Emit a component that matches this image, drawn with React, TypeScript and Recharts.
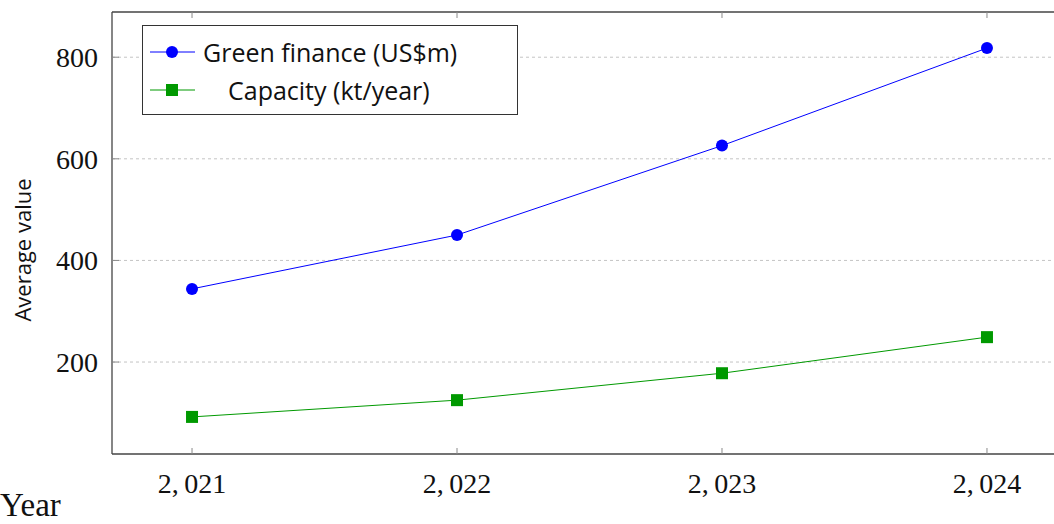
import React from "react";
import {
  LineChart,
  Line,
  XAxis,
  YAxis,
  CartesianGrid,
  ReferenceLine,
} from "recharts";

// values
const years = [2021, 2022, 2023, 2024];
const greenFinance = [344, 450, 626, 818];
const capacity = [92, 125, 178, 249];
const yTicks = [200, 400, 600, 800];

const X_DOMAIN: [number, number] = [2020.698, 2024.302];
const Y_DOMAIN: [number, number] = [19, 889];

const BLUE = "#0000ff";
const GREEN = "#009900";
const AXIS = "#454545";
const TICK = "#8a8a8a";
const SERIF = "'Liberation Serif', 'Times New Roman', serif";
const SANS = "'Open Sans', 'Noto Sans', sans-serif";

const data = years.map((year, i) => ({
  year,
  green: greenFinance[i],
  capacity: capacity[i],
}));

// pgfplots style thousands separator, "2, 021"
const fmtYear = (v: number) => {
  const s = String(v);
  return s.slice(0, s.length - 3) + ",\u2009" + s.slice(-3);
};

// inward tick + label under the bottom axis
const BottomTick = (props: any) => {
  const { x, y, payload } = props;
  return (
    <g>
      <line x1={x} x2={x} y1={y} y2={y - 6} stroke={TICK} strokeWidth={1} />
      <text
        x={x}
        y={y + 39}
        textAnchor="middle"
        fontFamily={SERIF}
        fontSize={28}
        fill="#111"
      >
        {fmtYear(payload.value)}
      </text>
    </g>
  );
};

const LeftTick = (props: any) => {
  const { x, y, payload } = props;
  return (
    <g>
      <line x1={x} x2={x + 7} y1={y} y2={y} stroke={TICK} strokeWidth={1} />
      <text
        x={x - 14}
        y={y + 10}
        textAnchor="end"
        fontFamily={SERIF}
        fontSize={28}
        fill="#111"
      >
        {payload.value}
      </text>
    </g>
  );
};

const Square = (props: any) => {
  const { cx, cy } = props;
  if (cx == null || cy == null) return null;
  return <rect x={cx - 6} y={cy - 6} width={12} height={12} fill={GREEN} />;
};

const LegendBox = () => (
  <div
    style={{
      position: "absolute",
      left: 142,
      top: 25,
      width: 374,
      height: 88,
      border: "1.3px solid #333",
      background: "#fff",
      fontFamily: SANS,
      fontSize: 25,
      color: "#111",
    }}
  >
    <div style={{ display: "flex", alignItems: "center", height: 36, marginTop: 8 }}>
      <svg width={60} height={20} style={{ flex: "none" }}>
        <line x1={7} x2={52} y1={10} y2={10} stroke={BLUE} strokeWidth={1} />
        <circle cx={29} cy={10} r={6} fill={BLUE} />
      </svg>
      <span>Green finance (US$m)</span>
    </div>
    <div style={{ display: "flex", alignItems: "center", height: 40 }}>
      <svg width={60} height={20} style={{ flex: "none" }}>
        <line x1={7} x2={52} y1={10} y2={10} stroke={GREEN} strokeWidth={1} />
        <rect x={23} y={4} width={12} height={12} fill={GREEN} />
      </svg>
      <span style={{ marginLeft: 25 }}>Capacity (kt/year)</span>
    </div>
  </div>
);

// top tick marks, pointing down into the plot (about 6px)
const topTickLen = ((Y_DOMAIN[1] - Y_DOMAIN[0]) * 6) / 442;

export default function App() {
  return (
    <div
      style={{
        position: "absolute",
        left: 0,
        top: 0,
        width: 1054,
        height: 524,
        overflow: "hidden",
        background: "#fff",
      }}
    >
      <LineChart
        width={1067}
        height={524}
        data={data}
        margin={{ top: 12, right: 0, bottom: 0, left: 0 }}
      >
        <CartesianGrid
          vertical={false}
          horizontalValues={yTicks}
          stroke="#c4c4c4"
          strokeDasharray="3 3"
        />
        <XAxis
          dataKey="year"
          type="number"
          domain={X_DOMAIN}
          ticks={years}
          height={70}
          tickSize={0}
          tickMargin={0}
          tickLine={false}
          axisLine={{ stroke: AXIS, strokeWidth: 1.3 }}
          tick={<BottomTick />}
          interval={0}
        />
        <YAxis
          type="number"
          domain={Y_DOMAIN}
          ticks={yTicks}
          width={112}
          tickSize={0}
          tickMargin={0}
          tickLine={false}
          axisLine={{ stroke: AXIS, strokeWidth: 1.3 }}
          tick={<LeftTick />}
          interval={0}
          allowDataOverflow
        />
        <ReferenceLine y={Y_DOMAIN[1]} stroke={AXIS} strokeWidth={1.3} />
        {years.map((yr) => (
          <ReferenceLine
            key={yr}
            segment={[
              { x: yr, y: Y_DOMAIN[1] },
              { x: yr, y: Y_DOMAIN[1] - topTickLen },
            ]}
            stroke={TICK}
            strokeWidth={1}
          />
        ))}
        <Line
          dataKey="green"
          stroke={BLUE}
          strokeWidth={1}
          dot={{ r: 6, fill: BLUE, stroke: BLUE, strokeWidth: 0 }}
          isAnimationActive={false}
        />
        <Line
          dataKey="capacity"
          stroke={GREEN}
          strokeWidth={1}
          dot={<Square />}
          isAnimationActive={false}
        />
      </LineChart>
      <LegendBox />
      <div
        style={{
          position: "absolute",
          left: 22,
          top: 250,
          transform: "translate(-50%, -50%) rotate(-90deg)",
          whiteSpace: "nowrap",
          fontFamily: SANS,
          fontSize: 22,
          lineHeight: "26px",
          color: "#111",
        }}
      >
        Average value
      </div>
      <div
        style={{
          position: "absolute",
          left: 0,
          top: 489,
          fontFamily: SERIF,
          fontSize: 33,
          lineHeight: "33px",
          color: "#111",
        }}
      >
        Year
      </div>
    </div>
  );
}
